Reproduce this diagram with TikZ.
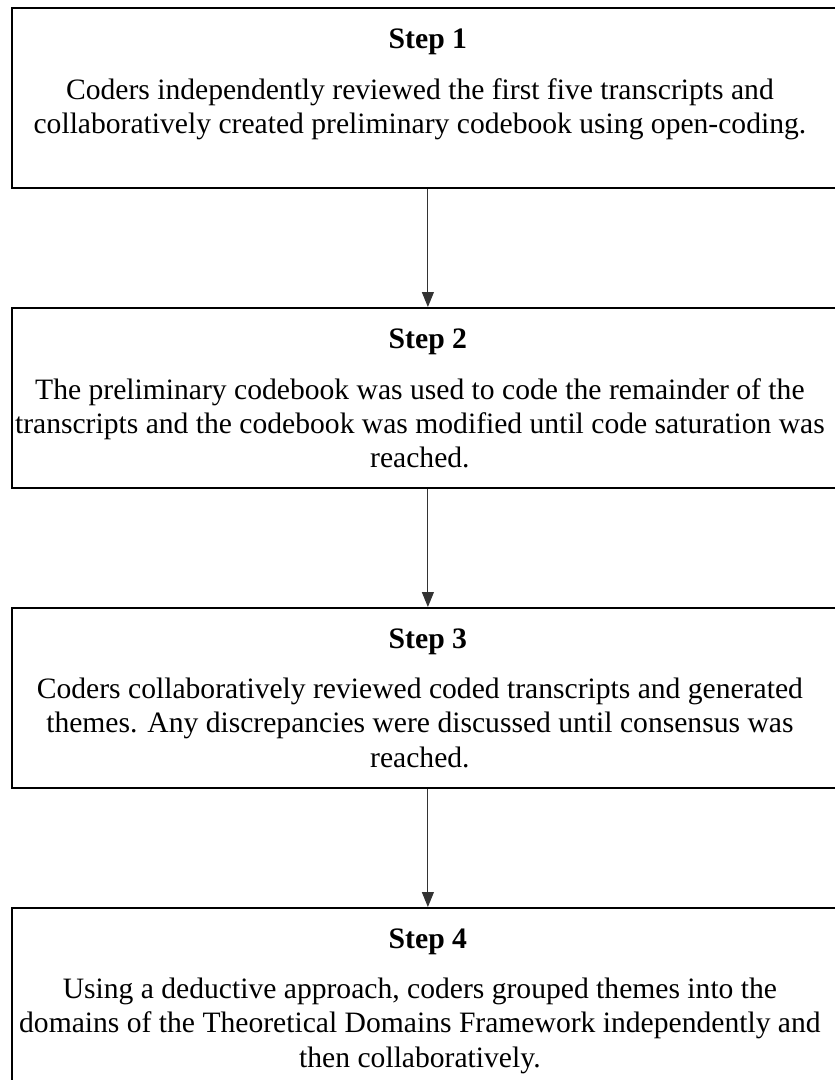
\documentclass[tikz,border=0pt]{standalone}
\usepackage{fontspec}
\setmainfont{Liberation Serif}
\usetikzlibrary{arrows.meta}
\begin{document}
\begin{tikzpicture}[x=1pt,y=-1pt,
  stepbox/.style={draw=black,line width=1.8pt,rectangle,minimum width=832pt,minimum height=180pt,inner sep=0pt,anchor=north west},
  steplabel/.style={font=\fontsize{29.7}{34.5}\selectfont\bfseries,inner sep=0pt,anchor=base},
  stepbody/.style={font=\fontsize{29.6}{34.2}\selectfont,align=center,inner sep=0pt,anchor=north,xshift=-8pt},
  flow/.style={draw=black!80,line width=1pt,-{Triangle[width=12pt,length=15pt]}}]
\useasboundingbox (0,0) rectangle (835,1080);
\fill[white] (0,0) rectangle (835,1080);
\node[stepbox] (b1) at (11,7) {};
\node[stepbox] (b2) at (11,307) {};
\node[stepbox] (b3) at (11,607) {};
\node[stepbox] (b4) at (11,907) {};
\foreach \b/\n in {b1/1,b2/2,b3/3,b4/4}{
  \node[steplabel] (l\n) at ([yshift=-41pt]\b.north) {Step \n};
}
\node[stepbody] (t1) at ([yshift=-71pt]b1.north) {Coders independently reviewed the first five transcripts and\\collaboratively created preliminary codebook using open-coding.};
\node[stepbody] (t2) at ([yshift=-71pt]b2.north) {The preliminary codebook was used to code the remainder of the\\transcripts and the codebook was modified until code saturation was\\reached.};
\node[stepbody] (t3) at ([yshift=-71pt]b3.north) {Coders collaboratively reviewed coded transcripts and generated\\themes. Any discrepancies were discussed until consensus was\\reached.};
\node[stepbody] (t4) at ([yshift=-71pt]b4.north) {Using a deductive approach, coders grouped themes into the\\domains of the Theoretical Domains Framework independently and\\then collaboratively.};
\draw[flow] (b1.south) -- (b2.north);
\draw[flow] (b2.south) -- (b3.north);
\draw[flow] (b3.south) -- (b4.north);
\end{tikzpicture}
\end{document}
